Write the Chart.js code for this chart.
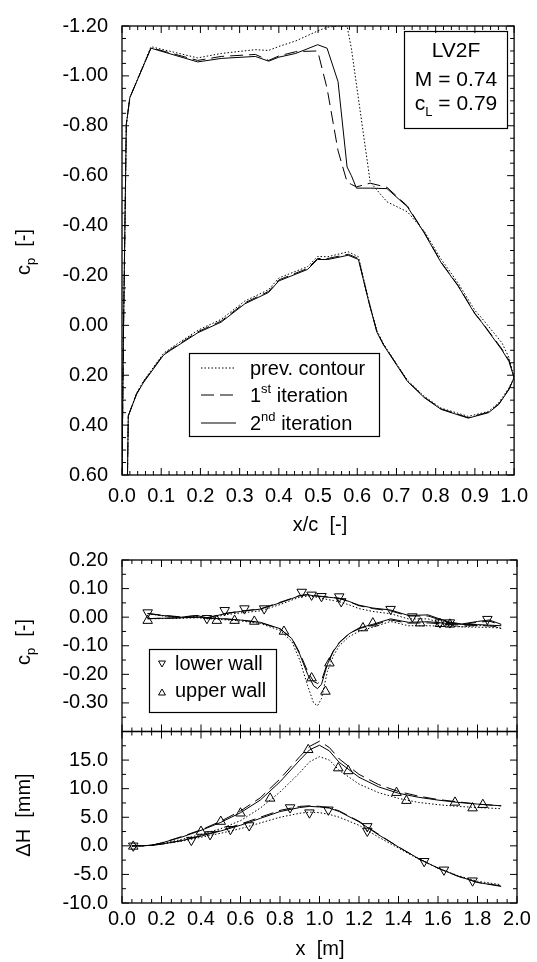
<!DOCTYPE html>
<html>
<head>
<meta charset="utf-8">
<script src="https://cdn.jsdelivr.net/npm/chart.js@4.4.1/dist/chart.umd.min.js"></script>
<style>
  html, body { margin: 0; padding: 0; background: #fff; }
  #wrap { position: relative; width: 537px; height: 962px; }
  canvas { position: absolute; left: 0; top: 0; }
</style>
</head>
<body>
<div id="wrap">
  <canvas id="chart-airfoil" width="537" height="962"></canvas>
  <canvas id="chart-wall-cp" width="537" height="962"></canvas>
  <canvas id="chart-wall-dh" width="537" height="962"></canvas>
</div>
<script>
// airfoil surface pressure, upper side
var upperX = [0.000, 0.004, 0.011, 0.020, 0.074, 0.193, 0.253, 0.340, 0.374, 0.400, 0.443, 0.499, 0.523, 0.551, 0.574, 0.585, 0.598, 0.633, 0.676, 0.728, 0.771, 0.814, 0.857, 0.900, 0.917, 0.969, 0.987, 1.000];
var upperPrev = [0.60, 0.00, -0.805, -0.913, -1.117, -1.072, -1.090, -1.105, -1.102, -1.118, -1.140, -1.180, -1.195, -1.200, -1.200, -1.110, -0.965, -0.574, -0.495, -0.455, -0.377, -0.265, -0.170, -0.060, -0.030, 0.070, 0.130, 0.210];
var upper1st = [0.60, 0.00, -0.805, -0.913, -1.113, -1.062, -1.078, -1.086, -1.062, -1.080, -1.097, -1.100, -0.950, -0.700, -0.575, -0.565, -0.555, -0.570, -0.553, -0.478, -0.372, -0.253, -0.160, -0.048, -0.015, 0.095, 0.140, 0.210];
var upper2nd = [0.60, 0.00, -0.805, -0.913, -1.111, -1.056, -1.070, -1.078, -1.059, -1.075, -1.090, -1.125, -1.111, -0.977, -0.635, -0.600, -0.550, -0.550, -0.548, -0.475, -0.370, -0.251, -0.158, -0.046, -0.013, 0.099, 0.145, 0.210];

// airfoil surface pressure, lower side
var lowerX = [0.014, 0.016, 0.037, 0.054, 0.106, 0.124, 0.193, 0.253, 0.313, 0.374, 0.400, 0.473, 0.499, 0.525, 0.577, 0.603, 0.630, 0.650, 0.667, 0.728, 0.771, 0.814, 0.883, 0.935, 0.961, 0.987, 1.000];
var lowerPrev = [0.60, 0.363, 0.272, 0.225, 0.112, 0.092, 0.020, -0.024, -0.097, -0.143, -0.190, -0.235, -0.276, -0.275, -0.295, -0.275, -0.095, 0.020, 0.075, 0.220, 0.285, 0.332, 0.365, 0.345, 0.310, 0.250, 0.210];
var lower1st = [0.60, 0.363, 0.275, 0.228, 0.116, 0.097, 0.026, -0.017, -0.090, -0.136, -0.182, -0.228, -0.268, -0.268, -0.285, -0.268, -0.092, 0.025, 0.077, 0.223, 0.288, 0.335, 0.370, 0.348, 0.315, 0.255, 0.210];
var lower2nd = [0.60, 0.363, 0.277, 0.231, 0.119, 0.100, 0.030, -0.013, -0.086, -0.132, -0.178, -0.224, -0.264, -0.264, -0.281, -0.264, -0.090, 0.027, 0.079, 0.225, 0.290, 0.337, 0.372, 0.350, 0.317, 0.257, 0.210];

// wind tunnel wall pressure
var cpLineX = [0.13, 0.20, 0.30, 0.38, 0.43, 0.52, 0.60, 0.70, 0.80, 0.86, 0.90, 0.94, 0.97, 0.99, 1.01, 1.04, 1.07, 1.10, 1.15, 1.20, 1.27, 1.36, 1.45, 1.55, 1.65, 1.72, 1.80, 1.86, 1.92];
var cpLowerPrev = [0.012, 0.005, -0.002, 0.003, -0.006, 0.008, 0.015, 0.022, 0.044, 0.060, 0.070, 0.074, 0.072, 0.069, 0.066, 0.062, 0.058, 0.054, 0.043, 0.030, 0.020, 0.012, -0.006, -0.006, -0.028, -0.034, -0.030, -0.028, -0.040];
var cpLower1st = [0.013, 0.007, 0.001, 0.005, -0.002, 0.013, 0.021, 0.029, 0.052, 0.066, 0.076, 0.079, 0.077, 0.074, 0.073, 0.071, 0.069, 0.066, 0.054, 0.040, 0.030, 0.022, 0.004, 0.004, -0.018, -0.026, -0.018, -0.014, -0.027];
var cpLower2nd = [0.013, 0.006, 0.000, 0.006, -0.003, 0.012, 0.020, 0.028, 0.050, 0.065, 0.075, 0.078, 0.075, 0.073, 0.072, 0.070, 0.068, 0.066, 0.055, 0.042, 0.032, 0.025, 0.006, 0.008, -0.016, -0.024, -0.015, -0.010, -0.025];
var cpUpperPrev = [-0.006, -0.005, -0.004, -0.002, -0.005, -0.009, -0.013, -0.022, -0.046, -0.085, -0.150, -0.240, -0.300, -0.310, -0.285, -0.190, -0.135, -0.100, -0.068, -0.050, -0.035, -0.015, -0.030, -0.030, -0.032, -0.034, -0.035, -0.036, -0.038];
var cpUpper1st = [-0.005, -0.004, -0.002, 0.000, -0.003, -0.006, -0.010, -0.019, -0.041, -0.074, -0.125, -0.190, -0.225, -0.232, -0.222, -0.160, -0.118, -0.088, -0.058, -0.040, -0.028, -0.010, -0.021, -0.020, -0.025, -0.028, -0.029, -0.031, -0.033];
var cpUpper2nd = [-0.005, -0.004, -0.002, 0.000, -0.003, -0.006, -0.010, -0.018, -0.040, -0.075, -0.130, -0.200, -0.240, -0.250, -0.235, -0.165, -0.120, -0.090, -0.058, -0.038, -0.025, -0.006, -0.018, -0.016, -0.022, -0.025, -0.026, -0.028, -0.030];

// measured wall pressure taps
var cpLowerTapX = [0.13, 0.43, 0.52, 0.62, 0.72, 0.91, 0.96, 1.01, 1.10, 1.11, 1.36, 1.47, 1.61, 1.66, 1.85];
var cpLowerTap = [0.016, -0.004, 0.024, 0.030, 0.030, 0.088, 0.078, 0.073, 0.072, 0.055, 0.028, 0.002, -0.019, -0.019, -0.007];
var cpUpperTapX = [0.13, 0.48, 0.57, 0.67, 0.82, 0.96, 1.03, 1.05, 1.22, 1.27, 1.51, 1.61, 1.66];
var cpUpperTap = [-0.012, -0.012, -0.012, -0.015, -0.050, -0.213, -0.260, -0.161, -0.038, -0.021, -0.021, -0.023, -0.025];

// wall contour deflection
var hLineX = [0.05, 0.10, 0.15, 0.20, 0.30, 0.40, 0.50, 0.60, 0.70, 0.80, 0.90, 0.95, 1.00, 1.05, 1.10, 1.20, 1.30, 1.40, 1.50, 1.60, 1.70, 1.80, 1.92];
var hUpperPrev = [0, 0, 0.1, 0.4, 1.1, 2.0, 3.0, 4.4, 6.6, 9.4, 12.8, 14.7, 15.6, 15.0, 13.2, 10.8, 9.3, 8.3, 7.6, 7.2, 6.9, 6.7, 6.5];
var hUpper1st = [0, 0, 0.1, 0.5, 1.6, 2.8, 4.3, 6.1, 8.4, 11.7, 15.6, 17.4, 18.3, 17.2, 15.2, 12.5, 10.7, 9.5, 8.7, 8.1, 7.7, 7.3, 7.0];
var hUpper2nd = [0, 0, 0.1, 0.5, 1.5, 2.7, 4.1, 5.8, 8.0, 11.2, 15.0, 16.8, 17.6, 16.6, 14.6, 12.0, 10.3, 9.2, 8.5, 8.0, 7.6, 7.3, 7.0];
var hLowerPrev = [0, 0.02, 0.1, 0.3, 0.8, 1.5, 2.2, 3.0, 4.0, 5.0, 5.7, 5.9, 5.8, 5.5, 5.0, 3.6, 1.5, -0.4, -2.3, -3.9, -5.2, -6.2, -6.8];
var hLower1st = [0, 0.02, 0.1, 0.3, 0.9, 1.8, 2.7, 3.8, 5.0, 6.2, 6.9, 7.0, 6.9, 6.7, 6.1, 4.3, 2.0, -0.2, -2.2, -3.9, -5.3, -6.4, -7.0];
var hLower2nd = [0, 0.02, 0.1, 0.3, 0.9, 1.7, 2.6, 3.6, 4.8, 6.0, 6.7, 6.9, 6.8, 6.6, 6.0, 4.2, 1.9, -0.2, -2.2, -3.9, -5.3, -6.4, -7.1];

var hUpperPtX = [0.057, 0.40, 0.50, 0.60, 0.75, 0.943, 1.095, 1.146, 1.39, 1.44, 1.686, 1.775, 1.827];
var hUpperPt = [-0.1, 2.5, 4.25, 5.7, 8.3, 16.8, 13.6, 13.1, 9.3, 7.9, 7.6, 6.6, 7.2];
var hLowerPtX = [0.057, 0.351, 0.446, 0.549, 0.644, 0.851, 0.949, 1.045, 1.242, 1.242, 1.53, 1.63, 1.775];
var hLowerPt = [0.0, 1.0, 2.0, 2.9, 3.55, 6.7, 5.8, 6.3, 3.4, 2.6, -2.7, -4.2, -6.1];

var FONT = '"Liberation Sans", Arial, sans-serif';
var DOTTED = [1.5, 2];
var DASHED = [13, 6];
Chart.defaults.font.family = FONT;
Chart.defaults.color = '#000';

function pts(xs, ys) {
  return xs.map(function (x, i) { return { x: x, y: ys[i] }; });
}

function line(xs, ys, dash) {
  return {
    data: pts(xs, ys),
    showLine: true,
    borderColor: '#000',
    borderWidth: 1,
    borderDash: dash,
    pointRadius: 0,
    tension: 0,
    fill: false,
  };
}

function marks(xs, ys, rot) {
  return {
    data: pts(xs, ys),
    showLine: false,
    pointStyle: 'triangle',
    pointRotation: rot,
    pointRadius: 5.5,
    pointBorderWidth: 1,
    pointBorderColor: '#000',
    pointBackgroundColor: 'rgba(0,0,0,0)',
  };
}

function font(size) {
  return size + 'px ' + FONT;
}

// text with sub/superscripts, parts = [{t, size, dy}]
function drawRich(ctx, parts, x, y, align) {
  var w = 0;
  parts.forEach(function (p) {
    ctx.font = font(p.size || 20);
    p.w = ctx.measureText(p.t).width;
    w += p.w;
  });
  var cx = align === 'center' ? x - w / 2 : x;
  ctx.textAlign = 'left';
  ctx.textBaseline = 'alphabetic';
  ctx.fillStyle = '#000';
  parts.forEach(function (p) {
    ctx.font = font(p.size || 20);
    ctx.fillText(p.t, cx, y + (p.dy || 0));
    cx += p.w;
  });
}

function yTitle(ctx, parts, x, y) {
  ctx.save();
  ctx.translate(x, y);
  ctx.rotate(-Math.PI / 2);
  drawRich(ctx, parts, 0, 0, 'center');
  ctx.restore();
}

function sample(ctx, x1, x2, y, dash) {
  ctx.save();
  ctx.strokeStyle = '#000';
  ctx.lineWidth = 1;
  ctx.setLineDash(dash);
  ctx.beginPath();
  ctx.moveTo(x1, y);
  ctx.lineTo(x2, y);
  ctx.stroke();
  ctx.restore();
}

// frame with inward ticks on all four sides
var frameTicks = {
  id: 'frameTicks',
  afterDatasetsDraw: function (chart, _args, opts) {
    var ctx = chart.ctx;
    var a = chart.chartArea;
    var sx = chart.scales.x;
    var sy = chart.scales.y;
    ctx.save();
    ctx.strokeStyle = '#000';
    ctx.lineWidth = 1;
    ctx.beginPath();
    var n = Math.round((sx.max - sx.min) / opts.xStep);
    var i, p, len;
    for (i = 0; i <= n; i++) {
      p = sx.getPixelForValue(sx.min + i * opts.xStep);
      len = i % opts.xEvery === 0 ? 7 : 4;
      ctx.moveTo(p, a.bottom); ctx.lineTo(p, a.bottom - len);
      ctx.moveTo(p, a.top); ctx.lineTo(p, a.top + len);
    }
    n = Math.round((sy.max - sy.min) / opts.yStep);
    for (i = 0; i <= n; i++) {
      p = sy.getPixelForValue(sy.min + i * opts.yStep);
      len = i % opts.yEvery === 0 ? 7 : 4;
      ctx.moveTo(a.left, p); ctx.lineTo(a.left + len, p);
      ctx.moveTo(a.right, p); ctx.lineTo(a.right - len, p);
    }
    ctx.stroke();
    ctx.lineWidth = 1.3;
    ctx.strokeRect(a.left, a.top, a.right - a.left, a.bottom - a.top);
    ctx.restore();
  },
};

function fix(v, d) {
  return (Math.abs(v) < 1e-9 ? 0 : v).toFixed(d);
}

var tickFont = { size: 20, family: FONT };

// ---- upper chart: airfoil cp ----
new Chart(document.getElementById('chart-airfoil'), {
  type: 'scatter',
  plugins: [frameTicks, {
    id: 'airfoilText',
    afterDraw: function (chart) {
      var ctx = chart.ctx;
      yTitle(ctx, [{ t: 'c' }, { t: 'p', size: 13, dy: 5 }, { t: '  [-]' }], 30, 252);
      drawRich(ctx, [{ t: 'x/c  [-]' }], 320, 531, 'center');

      ctx.save();
      ctx.strokeStyle = '#000';
      ctx.lineWidth = 1.2;
      ctx.strokeRect(404.5, 31.5, 103, 97);
      ctx.strokeRect(189.5, 353.5, 190, 83);
      ctx.restore();
      drawRich(ctx, [{ t: 'LV2F', size: 21 }], 456, 57, 'center');
      drawRich(ctx, [{ t: 'M = 0.74', size: 21 }], 456, 86, 'center');
      drawRich(ctx, [{ t: 'c', size: 21 }, { t: 'L', size: 13, dy: 6 }, { t: ' = 0.79', size: 21 }], 456, 110, 'center');

      sample(ctx, 201, 236, 368, DOTTED);
      sample(ctx, 201, 236, 395, DASHED);
      sample(ctx, 201, 236, 423, []);
      drawRich(ctx, [{ t: 'prev. contour' }], 250, 375, 'left');
      drawRich(ctx, [{ t: '1' }, { t: 'st', size: 13, dy: -9 }, { t: ' iteration' }], 250, 402, 'left');
      drawRich(ctx, [{ t: '2' }, { t: 'nd', size: 13, dy: -9 }, { t: ' iteration' }], 250, 430, 'left');
    },
  }],
  data: {
    datasets: [
      line(upperX, upperPrev, DOTTED),
      line(upperX, upper1st, DASHED),
      line(upperX, upper2nd, []),
      line(lowerX, lowerPrev, DOTTED),
      line(lowerX, lower1st, DASHED),
      line(lowerX, lower2nd, []),
    ],
  },
  options: {
    responsive: false,
    animation: false,
    events: [],
    layout: { autoPadding: false, padding: { left: 0, right: 20, top: 20, bottom: 447 } },
    plugins: {
      legend: { display: false },
      tooltip: { enabled: false },
      frameTicks: { xStep: 0.02, xEvery: 5, yStep: 0.05, yEvery: 4 },
    },
    scales: {
      x: {
        type: 'linear', min: 0, max: 1,
        grid: { display: false, drawTicks: false },
        border: { display: false },
        ticks: { stepSize: 0.1, font: tickFont, padding: 9, maxRotation: 0, callback: function (v) { return fix(v, 1); } },
        afterFit: function (s) { s.height = 40; },
      },
      y: {
        type: 'linear', min: -1.2, max: 0.6, reverse: true,
        grid: { display: false, drawTicks: false },
        border: { display: false },
        ticks: { stepSize: 0.2, font: tickFont, padding: 14, callback: function (v) { return fix(v, 2); } },
        afterFit: function (s) { s.width = 122; },
      },
    },
  },
});

// ---- lower chart, top panel: wall cp ----
new Chart(document.getElementById('chart-wall-cp'), {
  type: 'scatter',
  plugins: [frameTicks, {
    id: 'wallCpText',
    afterDraw: function (chart) {
      var ctx = chart.ctx;
      yTitle(ctx, [{ t: 'c' }, { t: 'p', size: 13, dy: 5 }, { t: '  [-]' }], 30, 642);
      ctx.save();
      ctx.strokeStyle = '#000';
      ctx.fillStyle = 'rgba(0,0,0,0)';
      ctx.lineWidth = 1.2;
      ctx.strokeRect(149.5, 649.5, 127, 63);
      ctx.lineWidth = 1;
      Chart.helpers.drawPoint(ctx, { pointStyle: 'triangle', radius: 4, rotation: 180, borderWidth: 1 }, 162, 663);
      Chart.helpers.drawPoint(ctx, { pointStyle: 'triangle', radius: 4, rotation: 0, borderWidth: 1 }, 162, 693);
      ctx.restore();
      drawRich(ctx, [{ t: 'lower wall' }], 175, 670, 'left');
      drawRich(ctx, [{ t: 'upper wall' }], 175, 697, 'left');
    },
  }],
  data: {
    datasets: [
      marks(cpLowerTapX, cpLowerTap, 180),
      marks(cpUpperTapX, cpUpperTap, 0),
      line(cpLineX, cpLowerPrev, DOTTED),
      line(cpLineX, cpLower1st, DASHED),
      line(cpLineX, cpLower2nd, []),
      line(cpLineX, cpUpperPrev, DOTTED),
      line(cpLineX, cpUpper1st, DASHED),
      line(cpLineX, cpUpper2nd, []),
    ],
  },
  options: {
    responsive: false,
    animation: false,
    events: [],
    layout: { autoPadding: false, padding: { left: 0, right: 20, top: 560, bottom: 230.5 } },
    plugins: {
      legend: { display: false },
      tooltip: { enabled: false },
      frameTicks: { xStep: 0.05, xEvery: 4, yStep: 0.05, yEvery: 2 },
    },
    scales: {
      x: { type: 'linear', min: 0, max: 2, display: false },
      y: {
        type: 'linear', min: -0.4, max: 0.2,
        grid: { display: false, drawTicks: false },
        border: { display: false },
        ticks: { stepSize: 0.1, font: tickFont, padding: 14, callback: function (v) { return v < -0.35 ? '' : fix(v, 2); } },
        afterFit: function (s) { s.width = 122; },
      },
    },
  },
});

// ---- lower chart, bottom panel: wall deflection ----
new Chart(document.getElementById('chart-wall-dh'), {
  type: 'scatter',
  plugins: [frameTicks, {
    id: 'wallDhText',
    afterDraw: function (chart) {
      var ctx = chart.ctx;
      yTitle(ctx, [{ t: '\u0394H  [mm]' }], 30, 815);
      drawRich(ctx, [{ t: 'x  [m]' }], 320, 955, 'center');
    },
  }],
  data: {
    datasets: [
      marks(hLowerPtX, hLowerPt, 180),
      marks(hUpperPtX, hUpperPt, 0),
      line(hLineX, hUpperPrev, DOTTED),
      line(hLineX, hUpper1st, DASHED),
      line(hLineX, hUpper2nd, []),
      line(hLineX, hLowerPrev, DOTTED),
      line(hLineX, hLower1st, DASHED),
      line(hLineX, hLower2nd, []),
    ],
  },
  options: {
    responsive: false,
    animation: false,
    events: [],
    layout: { autoPadding: false, padding: { left: 0, right: 20, top: 731.5, bottom: 19 } },
    plugins: {
      legend: { display: false },
      tooltip: { enabled: false },
      frameTicks: { xStep: 0.05, xEvery: 4, yStep: 2.5, yEvery: 2 },
    },
    scales: {
      x: {
        type: 'linear', min: 0, max: 2,
        grid: { display: false, drawTicks: false },
        border: { display: false },
        ticks: { stepSize: 0.2, font: tickFont, padding: 4, maxRotation: 0, callback: function (v) { return fix(v, 1); } },
        afterFit: function (s) { s.height = 40; },
      },
      y: {
        type: 'linear', min: -10, max: 20,
        grid: { display: false, drawTicks: false },
        border: { display: false },
        ticks: { stepSize: 5, font: tickFont, padding: 14, callback: function (v) { return v > 17 ? '' : fix(v, 1); } },
        afterFit: function (s) { s.width = 122; },
      },
    },
  },
});
</script>
</body>
</html>
